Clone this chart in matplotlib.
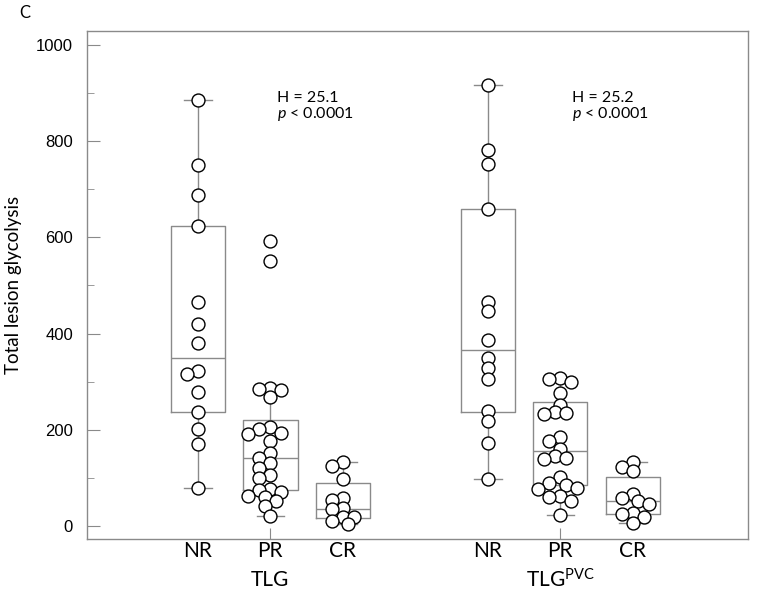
import numpy as np
import matplotlib
matplotlib.use("Agg")
import matplotlib.pyplot as plt

plt.rcParams['font.family'] = ['Lato', 'DejaVu Sans']
plt.rcParams['mathtext.fontset'] = 'custom'
plt.rcParams['mathtext.rm'] = 'Lato'
plt.rcParams['mathtext.it'] = 'Lato:italic'

# values (TLG and TLG with partial volume correction)
nr_tlg = [884, 751, 687, 624, 465, 420, 381, 322, 317, 280, 238, 203, 172, 80]
pr_tlg = [592, 551, 287, 286, 284, 269, 206, 203, 193, 191, 178, 153, 143,
          132, 122, 106, 101, 78, 75, 72, 64, 61, 53, 42, 21]
cr_tlg = [134, 125, 99, 58, 54, 38, 36, 20, 19, 12, 5]
nr_pvc = [916, 781, 753, 658, 466, 447, 387, 349, 328, 306, 239, 218, 174, 99]
pr_pvc = [307, 305, 300, 277, 252, 237, 236, 234, 185, 178, 160, 146, 143,
          139, 103, 91, 87, 80, 78, 63, 62, 53, 24]
cr_pvc = [134, 123, 116, 68, 58, 53, 46, 27, 26, 19, 8]

# box statistics as drawn
q1 = [238, 75, 18, 237, 85, 25]
med = [350, 143, 37, 366, 156, 53]
q3 = [624, 220, 90, 658, 258, 103]
whislo = [80, 21, 5, 99, 24, 8]
whishi = [884, 286, 134, 916, 307, 134]

categories = ['NR', 'PR', 'CR', 'NR', 'PR', 'CR']
measures = ['TLG', 'TLG$^{\\mathregular{PVC}}$']
h_stats = ['H = 25.1', 'H = 25.2']
p_text = '$\\mathit{p}$ < 0.0001'

groups = [nr_tlg, pr_tlg, cr_tlg, nr_pvc, pr_pvc, cr_pvc]
positions = [1, 2, 3, 5, 6, 7]

fig = plt.figure(figsize=(7.59, 5.97), dpi=100)
ax = fig.add_axes([0.1146, 0.0972, 0.8709, 0.8508])
ax.set_xlim(-0.53, 8.59)
ax.set_ylim(-26, 1028)

gray = '#8a8a8a'
stats = []
for i in range(6):
    stats.append(dict(med=med[i], q1=q1[i], q3=q3[i],
                      whislo=whislo[i], whishi=whishi[i], fliers=[]))
ax.bxp(stats, positions=positions, widths=0.75, showfliers=False,
       boxprops=dict(color=gray, lw=1), medianprops=dict(color=gray, lw=1),
       whiskerprops=dict(color=gray, lw=1), capprops=dict(color=gray, lw=1),
       capwidths=0.38, manage_ticks=False)


def swarm(x0, vals, step=5.5, min_d=8.5):
    # simple dot layout in pixel space, dots may overlap a little
    placed = []
    xs = []
    for v in vals:
        px, py = ax.transData.transform((x0, v))
        k = 0
        while True:
            off = ((k + 1) // 2) * step * (-1 if k % 2 else 1)
            ok = all((px + off - qx) ** 2 + (py - qy) ** 2 >= min_d ** 2
                     for qx, qy in placed)
            if ok:
                break
            k += 1
        placed.append((px + off, py))
        xs.append(ax.transData.inverted().transform((px + off, py))[0])
    return xs


for pos, vals in zip(positions, groups):
    xs = swarm(pos, vals)
    ax.plot(xs, vals, 'o', ms=9.3, mfc='white', mec='black', mew=1,
            ls='none', zorder=5)

for sp in ax.spines.values():
    sp.set_color(gray)
    sp.set_linewidth(1)

ax.set_yticks([0, 200, 400, 600, 800, 1000])
ax.set_yticks(np.arange(100, 1000, 200), minor=True)
ax.tick_params(axis='y', which='major', direction='in', length=9,
               color=gray, labelsize=12, pad=10)
ax.tick_params(axis='y', which='minor', direction='in', length=5, color=gray)
for lab in ax.get_yticklabels():
    lab.set_fontfamily('Liberation Sans')
ax.set_xticks([2, 6])
ax.set_xticklabels([])
ax.tick_params(axis='x', direction='in', length=8, color=gray)

ax.set_ylabel('Total lesion glycolysis', fontsize=13.5, labelpad=10)

for pos, cat in zip(positions, categories):
    ax.text(pos, -0.024, cat, transform=ax.get_xaxis_transform(),
            ha='center', va='center', fontsize=15)
for pos, m in zip([2, 6], measures):
    ax.text(pos, -0.081, m, transform=ax.get_xaxis_transform(),
            ha='center', va='center', fontsize=15)

for xpos, h in zip([2.09, 6.16], h_stats):
    ax.text(xpos, 890, h, ha='left', va='center', fontsize=11.5)
    ax.text(xpos, 856, p_text, ha='left', va='center', fontsize=11.5)

fig.text(19 / 759, 1 - 13 / 597, 'C', ha='left', va='center', fontsize=12)

fig.savefig('out.png', dpi=100)
